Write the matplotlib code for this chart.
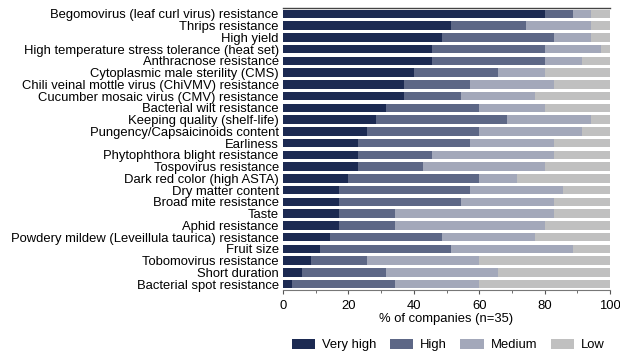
import matplotlib
matplotlib.use("Agg")
import matplotlib.pyplot as plt
from matplotlib.ticker import MultipleLocator
from matplotlib.patches import Patch

plt.rcParams['font.family'] = ['Liberation Sans', 'DejaVu Sans']

traits = [
    "Begomovirus (leaf curl virus) resistance",
    "Thrips resistance",
    "High yield",
    "High temperature stress tolerance (heat set)",
    "Anthracnose resistance",
    "Cytoplasmic male sterility (CMS)",
    "Chili veinal mottle virus (ChiVMV) resistance",
    "Cucumber mosaic virus (CMV) resistance",
    "Bacterial wilt resistance",
    "Keeping quality (shelf-life)",
    "Pungency/Capsaicinoids content",
    "Earliness",
    "Phytophthora blight resistance",
    "Tospovirus resistance",
    "Dark red color (high ASTA)",
    "Dry matter content",
    "Broad mite resistance",
    "Taste",
    "Aphid resistance",
    "Powdery mildew (Leveillula taurica) resistance",
    "Fruit size",
    "Tobomovirus resistance",
    "Short duration",
    "Bacterial spot resistance",
]

n_companies = 35
# number of companies rating each trait at each level
very_high = [28, 18, 17, 16, 16, 14, 13, 13, 11, 10, 9, 8, 8, 8, 7, 6, 6, 6, 6, 5, 4, 3, 2, 1]
high      = [3, 8, 12, 12, 12, 9, 7, 6, 10, 14, 12, 12, 8, 7, 14, 14, 13, 6, 6, 12, 14, 6, 9, 11]
medium    = [2, 7, 4, 6, 4, 5, 9, 8, 7, 9, 11, 9, 13, 13, 4, 10, 10, 17, 16, 10, 13, 12, 12, 9]
low       = [2, 2, 2, 1, 3, 7, 6, 8, 7, 2, 3, 6, 6, 7, 10, 5, 6, 6, 7, 8, 4, 14, 12, 14]

levels = ["Very high", "High", "Medium", "Low"]
colors = ["#1c2a52", "#5d6786", "#a3a8ba", "#c0c0c0"]

FS = 9.4

fig = plt.figure(figsize=(6.2, 3.58), dpi=100)
ax = fig.add_axes([283/620, 1 - 290/358, (610-283)/620, (290-8)/358])

y = list(range(len(traits)))
left = [0.0] * len(traits)
for series, col, lab in zip([very_high, high, medium, low], colors, levels):
    pct = [v / n_companies * 100 for v in series]
    ax.barh(y, pct, left=left, height=0.72, color=col, label=lab, linewidth=0)
    left = [a + b for a, b in zip(left, pct)]

ax.set_ylim(len(traits) - 0.5, -0.5)
ax.set_xlim(0, 100)
ax.set_yticks(y)
ax.set_yticklabels(traits, fontsize=FS)
ax.tick_params(axis='y', length=0, pad=3)
ax.xaxis.set_major_locator(MultipleLocator(20))
ax.xaxis.set_minor_locator(MultipleLocator(10))
ax.tick_params(axis='x', which='major', labelsize=FS, length=3, color='#555555', pad=4)
ax.tick_params(axis='x', which='minor', length=2, color='#555555')
ax.set_xlabel("% of companies (n=35)", fontsize=FS, labelpad=1)

for s in ['left', 'right']:
    ax.spines[s].set_visible(False)
ax.spines['top'].set_color('#444444')
ax.spines['top'].set_linewidth(1.0)
ax.spines['bottom'].set_color('#777777')
ax.spines['bottom'].set_linewidth(0.8)

handles = [Patch(facecolor=c, edgecolor='none', label=l) for c, l in zip(colors, levels)]
fig.legend(handles=handles, loc='center', bbox_to_anchor=(448/620, 1 - 345/358),
           ncol=4, frameon=False, fontsize=FS, handlelength=1.8, handleheight=0.9,
           columnspacing=1.05, handletextpad=0.5, borderpad=0, borderaxespad=0)

fig.savefig("out.png", dpi=100)
